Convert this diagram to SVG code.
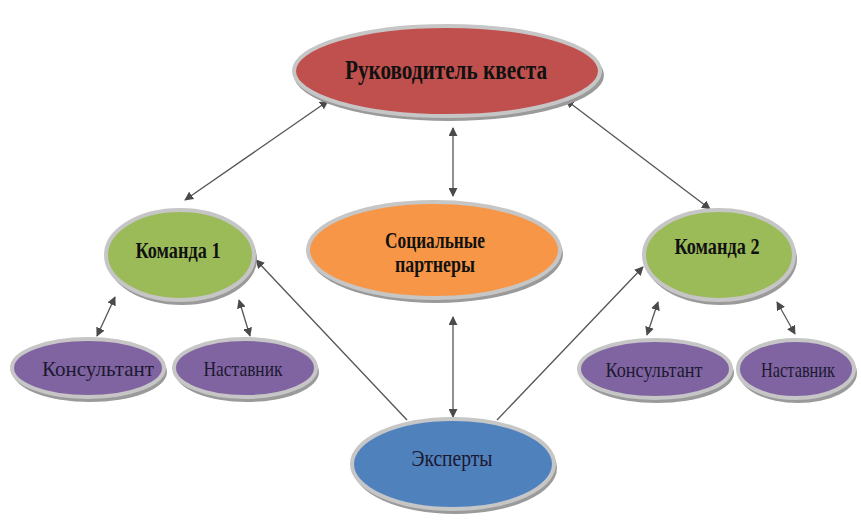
<svg xmlns="http://www.w3.org/2000/svg" width="861" height="520" viewBox="0 0 861 520">
<defs>
<marker id="ah" viewBox="0 0 10 10" refX="9" refY="5" markerWidth="9" markerHeight="9" markerUnits="userSpaceOnUse" orient="auto-start-reverse">
<path d="M0,0 L10,5 L0,10 z" fill="#4a4a4a"/>
</marker>
</defs>
<style>
.sh{fill:#9a9a9a;}
.el{stroke:#c6c6c6;stroke-width:4;}
.red{fill:#c0504d;}
.green{fill:#9bbb59;}
.orange{fill:#f79646;}
.purple{fill:#8064a2;}
.blue{fill:#4f81bd;}
.t{font-family:'Liberation Serif','DejaVu Serif','Times New Roman',serif;font-weight:bold;fill:#111;text-anchor:middle;}
.p{font-family:'Liberation Serif','DejaVu Serif','Times New Roman',serif;fill:#1c1830;text-anchor:middle;}
.c{fill:none;stroke:#555;stroke-width:1.3;}
</style>
<rect width="861" height="520" fill="#fff"/>
<g id="connectors">
<line class="c" x1="328" y1="101" x2="185" y2="200" marker-start="url(#ah)" marker-end="url(#ah)"/>
<line class="c" x1="453" y1="128" x2="453" y2="196" marker-start="url(#ah)" marker-end="url(#ah)"/>
<line class="c" x1="566" y1="100" x2="710" y2="209" marker-start="url(#ah)" marker-end="url(#ah)"/>
<line class="c" x1="115" y1="297" x2="97" y2="336" marker-start="url(#ah)" marker-end="url(#ah)"/>
<line class="c" x1="239" y1="300" x2="250" y2="336" marker-start="url(#ah)" marker-end="url(#ah)"/>
<line class="c" x1="658" y1="302" x2="647" y2="335" marker-start="url(#ah)" marker-end="url(#ah)"/>
<line class="c" x1="777" y1="302" x2="795" y2="334" marker-start="url(#ah)" marker-end="url(#ah)"/>
<line class="c" x1="453" y1="317" x2="453" y2="417" marker-start="url(#ah)" marker-end="url(#ah)"/>
<line class="c" x1="407" y1="420" x2="256" y2="260" marker-end="url(#ah)"/>
<line class="c" x1="497" y1="420" x2="643" y2="267" marker-end="url(#ah)"/>
</g>
<g id="rukovoditel">
<ellipse class="sh" cx="449" cy="75" rx="155" ry="46"/>
<ellipse class="el red" cx="447" cy="71" rx="153" ry="45"/>
<text class="t" x="446" y="79" font-size="27" textLength="202" lengthAdjust="spacingAndGlyphs">Руководитель квеста</text>
</g>
<g id="komanda1">
<ellipse class="sh" cx="182" cy="259" rx="75" ry="46"/>
<ellipse class="el green" cx="180" cy="255" rx="74" ry="45"/>
<text class="t" x="178" y="258" font-size="24" textLength="85" lengthAdjust="spacingAndGlyphs">Команда 1</text>
</g>
<g id="socialnye">
<ellipse class="sh" cx="436" cy="254" rx="127" ry="49"/>
<ellipse class="el orange" cx="434" cy="250" rx="126" ry="48"/>
<text class="t" x="435" y="248" font-size="24" textLength="100" lengthAdjust="spacingAndGlyphs">Социальные</text>
<text class="t" x="435" y="272" font-size="24" textLength="80" lengthAdjust="spacingAndGlyphs">партнеры</text>
</g>
<g id="komanda2">
<ellipse class="sh" cx="721" cy="259" rx="76" ry="46"/>
<ellipse class="el green" cx="719" cy="255" rx="75" ry="45"/>
<text class="t" x="717" y="254" font-size="24" textLength="85" lengthAdjust="spacingAndGlyphs">Команда 2</text>
</g>
<g id="konsultant1">
<ellipse class="sh" cx="90" cy="372" rx="77" ry="30"/>
<ellipse class="el purple" cx="88" cy="368" rx="76" ry="29"/>
<text class="p" x="98" y="376" font-size="22" textLength="112" lengthAdjust="spacingAndGlyphs">Консультант</text>
</g>
<g id="nastavnik1">
<ellipse class="sh" cx="247" cy="372" rx="72" ry="30"/>
<ellipse class="el purple" cx="245" cy="368" rx="71" ry="29"/>
<text class="p" x="243" y="376" font-size="22" textLength="79" lengthAdjust="spacingAndGlyphs">Наставник</text>
</g>
<g id="konsultant2">
<ellipse class="sh" cx="657" cy="373" rx="77" ry="30"/>
<ellipse class="el purple" cx="655" cy="369" rx="76" ry="29"/>
<text class="p" x="654" y="377" font-size="22" textLength="97" lengthAdjust="spacingAndGlyphs">Консультант</text>
</g>
<g id="nastavnik2">
<ellipse class="sh" cx="798" cy="373" rx="59" ry="30"/>
<ellipse class="el purple" cx="796" cy="369" rx="58" ry="29"/>
<text class="p" x="798" y="377" font-size="22" textLength="74" lengthAdjust="spacingAndGlyphs">Наставник</text>
</g>
<g id="eksperty">
<ellipse class="sh" cx="455" cy="468" rx="102" ry="46"/>
<ellipse class="el blue" cx="453" cy="464" rx="101" ry="45"/>
<text class="p" x="452" y="466" font-size="24" textLength="81" lengthAdjust="spacingAndGlyphs" fill="#111">Эксперты</text>
</g>
</svg>
